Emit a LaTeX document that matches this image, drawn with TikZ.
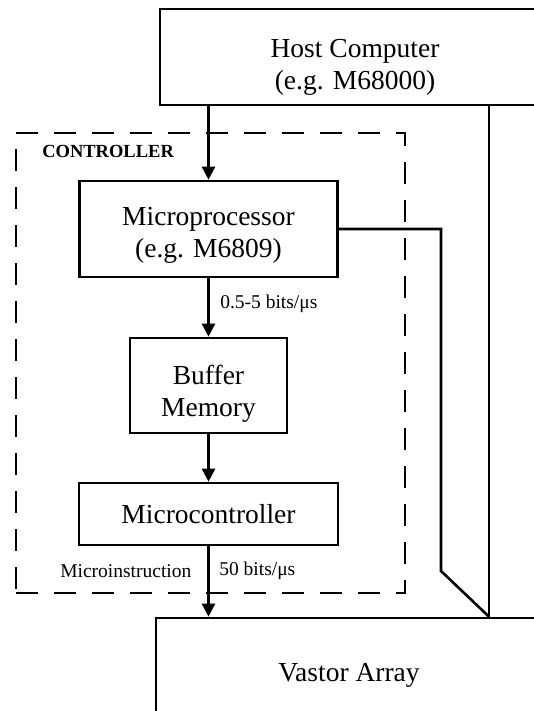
\documentclass[tikz,border=0pt]{standalone}
\usepackage{fontspec}
\setmainfont{Liberation Serif}
\usetikzlibrary{arrows.meta}

\begin{document}
\begin{tikzpicture}[x=1pt, y=-1pt, line width=2.6pt,
    block/.style={draw, rectangle, align=center, inner sep=0pt,
      font=\fontsize{27.5}{32}\selectfont},
    rate/.style={anchor=west, inner sep=0pt, font=\fontsize{19.5}{22}\selectfont},
    flow/.style={-{Triangle[length=13pt,width=13pt]}},
    group/.style={draw, dashed, dash pattern=on 22pt off 16pt}]
  \clip (0,0) rectangle (534,711);
  \node[block, minimum width=390pt, minimum height=96pt] (host) at (355,57)
    {\rule{0pt}{38pt}Host Computer\\(e.g. M68000)};
  \node[block, minimum width=258pt, minimum height=96pt] (mproc) at (208.5,229)
    {\rule{0pt}{31pt}Microprocessor\\(e.g. M6809)};
  \node[block, minimum width=157pt, minimum height=95pt] (buffer) at (208.5,385.5)
    {\rule{0pt}{35pt}Buffer\\Memory};
  \node[block, minimum width=259pt, minimum height=62pt] (mctrl) at (208.5,514)
    {Microcontroller};
  \node[block, minimum width=386pt, minimum height=110pt] (vastor) at (349,673)
    {\rule{0pt}{22pt}Vastor Array};
  \node[group, minimum width=389pt, minimum height=460pt] (ctrlbox) at (210.5,363) {};
  \node[anchor=west, inner sep=0pt, font=\fontsize{18.5}{20}\selectfont\bfseries]
    (ctrllabel) at (41,151) {CONTROLLER};
  \coordinate (bus) at (489,0);
  \coordinate (bend) at (441,571);
  \draw[flow] (host.south -| mproc.north) -- (mproc.north);
  \draw[flow] (mproc.south) -- (buffer.north);
  \draw[flow] (buffer.south) -- (mctrl.north);
  \draw[flow] (mctrl.south) -- (mctrl.south |- vastor.north);
  \draw (host.south -| bus) -- (vastor.north -| bus);
  \draw (mproc.east) -- (mproc.east -| bend) -- (bend) -- (vastor.north -| bus);
  \node[rate] (slowrate) at (219,304) {0.5-5 bits/μs};
  \node[rate] (minstr) at (59,571) {Microinstruction};
  \node[rate] (fastrate) at (218,571) {50 bits/μs};
\end{tikzpicture}
\end{document}
